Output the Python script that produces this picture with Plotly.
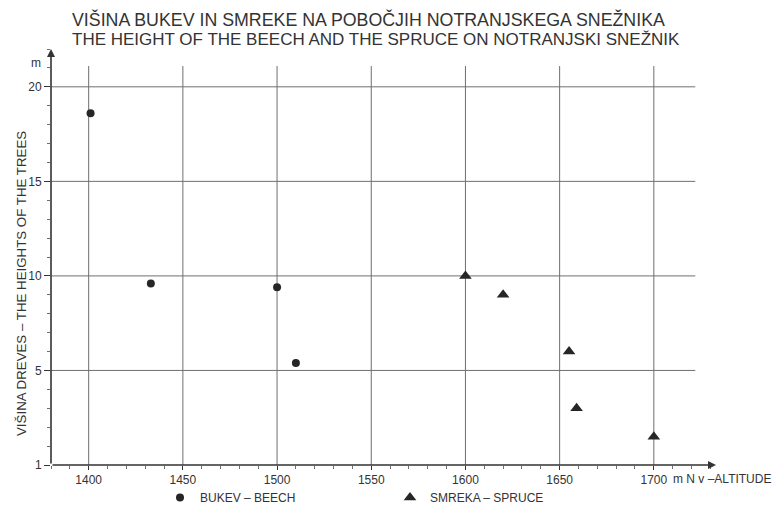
import plotly.graph_objects as go

# Tree heights (m) against altitude (m above sea level)
beech_alt = [1401, 1433, 1500, 1510]
beech_h = [18.6, 9.6, 9.4, 5.4]
spruce_alt = [1600, 1620, 1655, 1659, 1700]
spruce_h = [10.0, 9.0, 6.0, 3.0, 1.5]

x_ticks = [1400, 1450, 1500, 1550, 1600, 1650, 1700]
x_ticktext = ["1400", "1450", "1500", "1550", "1600", "1650", "1700"]
y_ticks = [0, 5, 10, 15, 20]
y_ticktext = ["1", "5", "10", "15", "20"]

title_1 = "VIŠINA BUKEV IN SMREKE NA POBOČJIH NOTRANJSKEGA SNEŽNIKA"
title_2 = "THE HEIGHT OF THE BEECH AND THE SPRUCE ON NOTRANJSKI SNEŽNIK"
y_title = "VIŠINA DREVES – THE HEIGHTS OF THE TREES"
x_title = "m N v –ALTITUDE"
y_unit = "m"

INK = "#333333"
GRID = "#6f6f6f"
FONT = "Liberation Sans"

W, H = 774, 508
ML, MR, MT, MB = 51, 58, 49, 43

X_MIN, X_MAX = 1380, 1733
Y_MIN, Y_MAX = 0, 22
GRID_X_END = 1722
GRID_Y_END = 21.1

plot_w = W - ML - MR
plot_h = H - MT - MB


def px_to_paper(px, py):
    return (px - ML) / plot_w, (H - MB - py) / plot_h


fig = go.Figure()

fig.add_trace(go.Scatter(
    x=beech_alt, y=beech_h, mode="markers", name="BUKEV – BEECH",
    marker=dict(symbol="circle", size=8, color="#262626"),
    cliponaxis=False,
))
fig.add_trace(go.Scatter(
    x=spruce_alt, y=spruce_h, mode="markers", name="SMREKA – SPRUCE",
    marker=dict(symbol="triangle-up", size=11, color="#262626"),
    cliponaxis=False,
))

shapes = []
for yv in y_ticks[1:]:
    shapes.append(dict(type="line", xref="x", yref="y", x0=X_MIN, x1=GRID_X_END,
                       y0=yv, y1=yv, line=dict(color=GRID, width=1), layer="below"))
for xv in x_ticks:
    shapes.append(dict(type="line", xref="x", yref="y", x0=xv, x1=xv,
                       y0=Y_MIN, y1=GRID_Y_END, line=dict(color=GRID, width=1), layer="below"))

annotations = [
    # axis arrows
    dict(x=X_MAX, y=0, ax=X_MIN, ay=0, xref="x", yref="y", axref="x", ayref="y",
         text="", showarrow=True, arrowhead=2, arrowsize=1, arrowwidth=1.6,
         arrowcolor=INK, standoff=0),
    dict(x=X_MIN, y=Y_MAX, ax=X_MIN, ay=0, xref="x", yref="y", axref="x", ayref="y",
         text="", showarrow=True, arrowhead=2, arrowsize=1, arrowwidth=1.6,
         arrowcolor=INK, standoff=0),
]


def text_at(px, py, text, size, anchor="left", angle=0):
    x, y = px_to_paper(px, py)
    annotations.append(dict(x=x, y=y, xref="paper", yref="paper", text=text,
                            showarrow=False, xanchor=anchor, yanchor="middle",
                            textangle=angle,
                            font=dict(family=FONT, size=size, color=INK)))


text_at(70, 20, title_1, 17.8)
text_at(70, 39, title_2, 17)
text_at(36, 63, y_unit, 12, anchor="center")
text_at(21, 284, y_title, 13.3, anchor="center", angle=-90)
text_at(671, 479, x_title, 12)

fig.update_layout(
    width=W, height=H,
    margin=dict(l=ML, r=MR, t=MT, b=MB, autoexpand=False),
    paper_bgcolor="white", plot_bgcolor="white",
    showlegend=True,
    legend=dict(orientation="h", xref="container", yref="container",
                x=160 / W, y=(H - 483) / H, xanchor="left", yanchor="top",
                font=dict(family=FONT, size=12, color=INK),
                entrywidth=185, entrywidthmode="pixels",
                bgcolor="rgba(0,0,0,0)"),
    shapes=shapes,
    annotations=annotations,
)

fig.update_xaxes(
    range=[X_MIN, X_MAX], showgrid=False, zeroline=False, showline=False,
    tickmode="array", tickvals=x_ticks, ticktext=x_ticktext,
    ticks="outside", ticklen=4, tickcolor=INK, tickwidth=1,
    tickfont=dict(family=FONT, size=12, color=INK),
    minor=dict(dtick=10, tick0=1400, ticks="outside", ticklen=3, tickcolor=GRID, showgrid=False),
)
fig.update_yaxes(
    range=[Y_MIN, Y_MAX], showgrid=False, zeroline=False, showline=False,
    tickmode="array", tickvals=y_ticks, ticktext=y_ticktext,
    ticks="outside", ticklen=6, tickcolor=INK, tickwidth=1,
    tickfont=dict(family=FONT, size=12, color=INK),
    minor=dict(dtick=1, tick0=0, ticks="outside", ticklen=3, tickcolor=GRID, showgrid=False),
)

fig.write_html("out.html")
